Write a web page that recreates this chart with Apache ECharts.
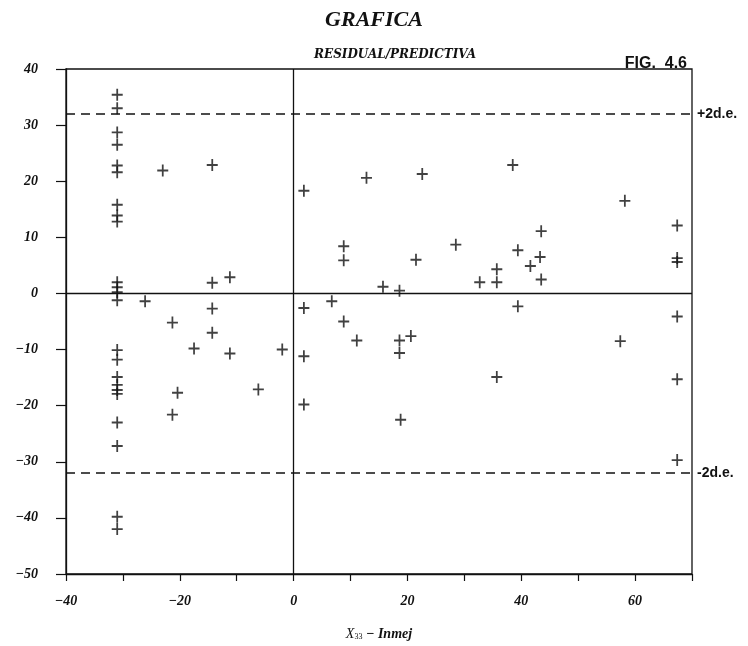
<!DOCTYPE html>
<html>
<head>
<meta charset="utf-8">
<script src="https://cdn.jsdelivr.net/npm/echarts@6/dist/echarts.min.js"></script>
<style>
  html, body { margin: 0; padding: 0; background: #ffffff; }
  #chart { width: 748px; height: 646px; }
</style>
</head>
<body>
<div id="chart"></div>
<script>
// Residuals against predicted value (X33 - Inmej)
const predictedX = [
  -31, -31, -31, -31, -31, -31, -31, -31, -31, -31, -31, -31, -31,
  -31, -31, -31, -31, -31, -31, -31, -31, -31, -31,
  -26.1, -23, -21.3, -20.4, -21.3, -17.5, -14.3, -14.3, -14.3, -14.3,
  -11.2, -11.2, -6.2, -2.0,
  1.8, 1.8, 1.8, 1.8, 6.7, 8.8, 8.8, 8.8, 11.1, 12.8, 15.7, 18.6,
  18.6, 18.6, 18.8, 20.6, 21.5, 22.6, 28.5, 32.7, 35.7, 35.7, 35.7,
  38.5, 39.4, 39.4, 41.6, 43.3, 43.5, 43.5, 57.4, 58.2,
  67.4, 67.4, 67.4, 67.4, 67.4, 67.4
];
const residuals = [
  35.4, 33.0, 28.7, 26.5, 22.8, 21.6, 15.8, 13.9, 12.8, 2.0, 1.1, 0.2, -1.2,
  -10.1, -11.8, -14.9, -16.3, -17.2, -17.9, -23.0, -27.2, -39.8, -42.0,
  -1.4, 21.9, -5.2, -17.7, -21.6, -9.8, 22.9, 1.9, -2.7, -7.0,
  2.9, -10.7, -17.1, -10.0,
  18.3, -2.6, -11.2, -19.8, -1.4, 8.4, 5.9, -5.0, -8.4, 20.6, 1.2, 0.5,
  -8.4, -10.6, -22.5, -7.6, 6.0, 21.3, 8.7, 2.0, 4.3, 2.0, -14.9,
  22.9, 7.7, -2.3, 4.9, 6.5, 11.1, 2.5, -8.5, 16.5,
  12.1, 6.3, 5.6, -4.1, -15.3, -29.7
];
// Two standard deviation limits
const limitValues = [32, -32];
const limitLabels = ['+2d.e.', '-2d.e.'];

const titleText = 'GRAFICA';
const subtitleText = 'RESIDUAL/PREDICTIVA';
const figureText = 'FIG.  4.6';

const ink = '#111111';
const serif = '"Liberation Serif", "DejaVu Serif", serif';
const wideSerif = '"DejaVu Serif", "Liberation Serif", serif';
const sans = '"Liberation Sans", "DejaVu Sans", sans-serif';

const points = predictedX.map((x, i) => [x, residuals[i]]);
const plusPath = 'path://M4.2,0 H5.8 V4.2 H10 V5.8 H5.8 V10 H4.2 V5.8 H0 V4.2 H4.2 Z';
const minus = v => (v < 0 ? '\u2212' + Math.abs(v) : String(v));

const chart = echarts.init(document.getElementById('chart'), null, { renderer: 'canvas' });
chart.setOption({
  backgroundColor: '#ffffff',
  animation: false,
  title: [
    {
      text: titleText, left: 'center', top: 4,
      textStyle: { fontFamily: serif, fontStyle: 'italic', fontWeight: 'bold', fontSize: 22, color: ink }
    },
    {
      text: subtitleText, left: 390, top: 44, textAlign: 'center',
      textStyle: { fontFamily: wideSerif, fontStyle: 'italic', fontWeight: 'bold', fontSize: 12, color: ink }
    },
    {
      text: figureText, right: 56, top: 51,
      textStyle: { fontFamily: sans, fontWeight: 'bold', fontSize: 16, color: ink }
    }
  ],
  grid: { left: 66, right: 56, top: 69, bottom: 72, show: true, borderColor: ink, borderWidth: 1.3 },
  xAxis: {
    type: 'value', min: -40, max: 70, interval: 10,
    axisLine: { show: true, onZero: false, lineStyle: { color: ink, width: 1.3 } },
    axisTick: { show: true, inside: false, length: 7, lineStyle: { color: ink, width: 1.2 } },
    splitLine: { show: false },
    axisLabel: {
      margin: 20, color: ink, fontFamily: serif, fontStyle: 'italic', fontWeight: 'bold', fontSize: 14,
      formatter: v => (v % 20 === 0 && v < 70 ? minus(v) : '')
    },
    name: '{x|X}{sub|33}{t| \u2212 Inmej}',
    nameLocation: 'middle', nameGap: 53,
    nameTextStyle: {
      rich: {
        x: { fontFamily: serif, fontStyle: 'italic', fontSize: 14, color: ink },
        sub: { fontFamily: serif, fontSize: 8, color: ink, padding: [6, 0, 0, 0] },
        t: { fontFamily: serif, fontStyle: 'italic', fontWeight: 'bold', fontSize: 14, color: ink }
      }
    }
  },
  yAxis: {
    type: 'value', min: -50, max: 40, interval: 10,
    axisLine: { show: true, onZero: false, lineStyle: { color: ink, width: 1.3 } },
    axisTick: { show: true, inside: false, length: 10, lineStyle: { color: ink, width: 1.2 } },
    splitLine: { show: false },
    axisLabel: {
      margin: 28, color: ink, fontFamily: serif, fontStyle: 'italic', fontWeight: 'bold', fontSize: 14,
      formatter: v => minus(v)
    }
  },
  series: [
    {
      type: 'scatter',
      data: points,
      symbol: plusPath,
      symbolSize: [11, 12],
      itemStyle: { color: ink },
      silent: true,
      markLine: {
        silent: true,
        symbol: ['none', 'none'],
        data: [
          { xAxis: 0, lineStyle: { type: 'solid', width: 1.3, color: ink }, label: { show: false } },
          { yAxis: 0, lineStyle: { type: 'solid', width: 1.3, color: ink }, label: { show: false } },
          ...limitValues.map((v, i) => ({
            yAxis: v,
            lineStyle: { type: [9, 6], width: 1.5, color: ink },
            label: {
              show: true, position: 'end', distance: 5, formatter: limitLabels[i],
              fontFamily: sans, fontWeight: 'bold', fontSize: 14, color: ink
            }
          }))
        ]
      }
    }
  ]
});
</script>
</body>
</html>
